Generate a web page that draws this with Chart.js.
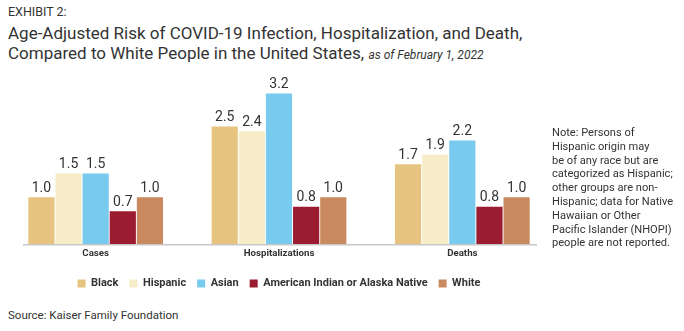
<!DOCTYPE html>
<html>
<head>
<meta charset="utf-8">
<script src="https://cdn.jsdelivr.net/npm/chart.js@4/dist/chart.umd.min.js"></script>
<style>
  body { margin: 0; background: #fff; font-family: Roboto, sans-serif; color: #333; }
  #wrap { position: relative; width: 684px; height: 331px; overflow: hidden; }
  .exhibit { position: absolute; left: 8px; top: 4px; font-size: 12.5px; }
  .title { position: absolute; left: 8px; top: 23px; font-size: 17px; line-height: 20px; color: #333; white-space: nowrap; }
  .title i { font-size: 12px; }
  .note { position: absolute; left: 552px; top: 126px; font-size: 11.1px; line-height: 13.8px; white-space: nowrap; }
  .source { position: absolute; left: 8px; top: 308px; font-size: 11.5px; }
  #box { position: absolute; left: 0; top: 70px; width: 560px; height: 229px; }
</style>
</head>
<body>
<div id="wrap">
  <div class="exhibit">EXHIBIT 2:</div>
  <div class="title">Age-Adjusted Risk of COVID-19 Infection, Hospitalization, and Death,<br>Compared to White People in the United States, <i>as of February 1, 2022</i></div>
  <div id="box"><canvas id="riskChart"></canvas></div>
  <div class="note">Note: Persons of<br>Hispanic origin may<br>be of any race but are<br>categorized as Hispanic;<br>other groups are non-<br>Hispanic; data for Native<br>Hawaiian or Other<br>Pacific Islander (NHOPI)<br>people are not reported.</div>
  <div class="source">Source: Kaiser Family Foundation</div>
</div>
<script>
document.addEventListener('DOMContentLoaded', function() {

  // categorias y series
  const categorias = ['Cases', 'Hospitalizations', 'Deaths'];
  const grupos = ['Black', 'Hispanic', 'Asian', 'American Indian or Alaska Native', 'White'];
  const black = [1.0, 2.5, 1.7];
  const hispanic = [1.5, 2.4, 1.9];
  const asian = [1.5, 3.2, 2.2];
  const aian = [0.7, 0.8, 0.8];
  const white = [1.0, 1.0, 1.0];
  const colores = ['#E6C47F', '#F6EDC8', '#78CBEF', '#9B1B30', '#C98A5F'];

  const series = [black, hispanic, asian, aian, white];

  // valores encima de cada barra + linea base
  const etiquetas = {
    id: 'etiquetas',
    afterDatasetsDraw(chart) {
      const ctx = chart.ctx;
      const area = chart.chartArea;
      ctx.save();
      ctx.strokeStyle = '#c8c8c8';
      ctx.lineWidth = 1.5;
      ctx.beginPath();
      ctx.moveTo(area.left + 19, area.bottom + 0.5);
      ctx.lineTo(area.right - 17, area.bottom + 0.5);
      ctx.stroke();
      ctx.font = '14px Roboto';
      ctx.fillStyle = '#333';
      ctx.textAlign = 'center';
      ctx.textBaseline = 'bottom';
      chart.data.datasets.forEach((ds, i) => {
        chart.getDatasetMeta(i).data.forEach((bar, j) => {
          ctx.fillText(ds.data[j].toFixed(1), bar.x, bar.y - 2);
        });
      });
      ctx.restore();
    }
  };

  new Chart(document.getElementById('riskChart'), {
    type: 'bar',
    data: {
      labels: categorias,
      datasets: grupos.map((g, i) => ({
        label: g,
        data: series[i],
        backgroundColor: colores[i],
        categoryPercentage: 0.74,
        barPercentage: 0.965
      }))
    },
    options: {
      responsive: true,
      maintainAspectRatio: false,
      animation: false,
      layout: { padding: { left: 4, right: 6, top: 14, bottom: 0 } },
      plugins: {
        legend: {
          position: 'bottom',
          labels: {
            boxWidth: 8,
            boxHeight: 8,
            padding: 11,
            color: '#333',
            font: { family: 'Roboto', size: 11, weight: 'bold' }
          }
        },
        tooltip: { enabled: false }
      },
      scales: {
        x: {
          grid: { display: false, drawTicks: false },
          border: { display: false },
          ticks: { color: '#333', padding: 3, font: { family: 'Roboto', size: 9.7, weight: 'bold' } },
          afterFit(scale) { scale.height += 5; }
        },
        y: {
          display: false,
          min: 0,
          max: 3.4
        }
      }
    },
    plugins: [etiquetas]
  });

});
</script>
</body>
</html>
